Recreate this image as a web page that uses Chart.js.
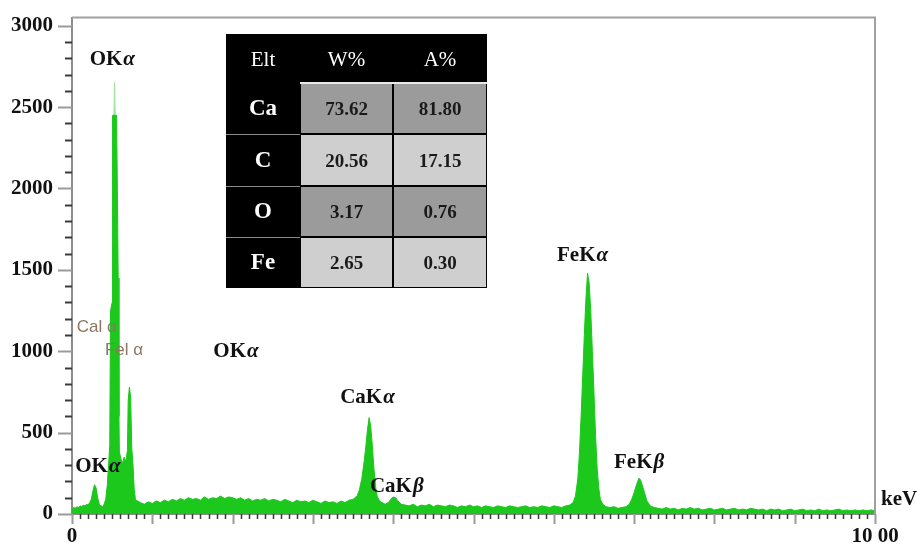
<!DOCTYPE html>
<html>
<head>
<meta charset="utf-8">
<script src="https://cdn.jsdelivr.net/npm/chart.js@4.4.1/dist/chart.umd.min.js"></script>
<style>
    html, body { margin: 0; padding: 0; background: #fff; }
</style>
</head>
<body>
<canvas id="chart" width="919" height="547"></canvas>
<script>
// EDS spectrum: [energy keV, counts]
const spectrum = [
    [0.00, 25], [0.02, 40], [0.04, 35], [0.06, 45], [0.08, 40], [0.10, 50],
    [0.12, 45], [0.14, 55], [0.16, 50], [0.18, 60], [0.20, 55], [0.22, 70],
    [0.24, 90], [0.26, 140], [0.28, 180], [0.30, 160], [0.32, 100], [0.34, 60],
    [0.36, 50], [0.38, 45], [0.40, 60], [0.42, 90], [0.44, 180], [0.455, 300],
    [0.47, 420], [0.48, 1250], [0.50, 1300], [0.505, 2450], [0.555, 2450],
    [0.565, 2000], [0.575, 1450], [0.585, 600], [0.59, 380], [0.61, 340],
    [0.63, 310], [0.65, 350], [0.67, 320], [0.69, 390], [0.70, 700],
    [0.715, 780], [0.73, 720], [0.745, 400], [0.76, 300], [0.775, 150],
    [0.79, 90], [0.80, 85], [0.85, 70], [0.90, 60], [0.95, 75], [1.00, 65],
    [1.05, 80], [1.10, 70], [1.15, 85], [1.20, 75], [1.25, 90], [1.30, 80],
    [1.35, 95], [1.40, 85], [1.45, 100], [1.50, 90], [1.55, 95], [1.60, 85],
    [1.65, 105], [1.70, 90], [1.75, 100], [1.80, 95], [1.85, 110], [1.90, 95],
    [1.95, 105], [2.00, 100], [2.05, 90], [2.10, 100], [2.15, 85], [2.20, 95],
    [2.25, 80], [2.30, 90], [2.35, 85], [2.40, 95], [2.45, 80], [2.50, 90],
    [2.55, 85], [2.60, 75], [2.65, 90], [2.70, 80], [2.75, 70], [2.80, 85],
    [2.85, 75], [2.90, 80], [2.95, 70], [3.00, 85], [3.05, 75], [3.10, 65],
    [3.15, 80], [3.20, 70], [3.25, 75], [3.30, 65], [3.35, 80], [3.40, 70],
    [3.45, 85], [3.50, 90], [3.55, 110], [3.58, 150], [3.61, 220], [3.64, 330],
    [3.66, 420], [3.68, 520], [3.70, 592], [3.72, 540], [3.74, 420], [3.76, 280],
    [3.78, 170], [3.80, 110], [3.83, 80], [3.86, 70], [3.90, 60], [3.94, 70],
    [3.97, 90], [4.00, 105], [4.03, 100], [4.06, 80], [4.10, 60], [4.15, 55],
    [4.20, 50], [4.25, 60], [4.30, 45], [4.35, 55], [4.40, 50], [4.45, 60],
    [4.50, 45], [4.55, 55], [4.60, 50], [4.65, 45], [4.70, 55], [4.75, 50],
    [4.80, 40], [4.85, 50], [4.90, 45], [4.95, 55], [5.00, 45], [5.05, 50],
    [5.10, 40], [5.15, 50], [5.20, 45], [5.25, 40], [5.30, 50], [5.35, 45],
    [5.40, 40], [5.45, 50], [5.50, 45], [5.55, 40], [5.60, 45], [5.65, 50],
    [5.70, 40], [5.75, 45], [5.80, 40], [5.85, 50], [5.90, 45], [5.95, 40],
    [6.00, 50], [6.05, 45], [6.10, 40], [6.15, 50], [6.20, 55], [6.24, 70],
    [6.27, 110], [6.30, 220], [6.32, 380], [6.34, 600], [6.36, 850], [6.38, 1100],
    [6.40, 1320], [6.42, 1480], [6.44, 1420], [6.46, 1250], [6.48, 1000],
    [6.50, 750], [6.52, 480], [6.54, 280], [6.56, 160], [6.58, 90], [6.61, 60],
    [6.65, 45], [6.70, 40], [6.75, 45], [6.80, 35], [6.85, 40], [6.90, 45],
    [6.94, 60], [6.97, 90], [7.00, 130], [7.03, 180], [7.06, 220], [7.08, 210],
    [7.10, 180], [7.13, 130], [7.16, 80], [7.20, 50], [7.25, 40], [7.30, 35],
    [7.35, 30], [7.40, 40], [7.45, 30], [7.50, 35], [7.55, 25], [7.60, 35],
    [7.65, 30], [7.70, 40], [7.75, 30], [7.80, 35], [7.85, 25], [7.90, 30],
    [7.95, 35], [8.00, 25], [8.05, 30], [8.10, 35], [8.15, 25], [8.20, 30],
    [8.25, 35], [8.30, 25], [8.35, 30], [8.40, 25], [8.45, 35], [8.50, 30],
    [8.55, 25], [8.60, 30], [8.65, 20], [8.70, 30], [8.75, 25], [8.80, 30],
    [8.85, 20], [8.90, 25], [8.95, 30], [9.00, 20], [9.05, 25], [9.10, 30],
    [9.15, 20], [9.20, 25], [9.25, 20], [9.30, 30], [9.35, 20], [9.40, 25],
    [9.45, 20], [9.50, 25], [9.55, 30], [9.60, 20], [9.65, 25], [9.70, 20],
    [9.75, 25], [9.80, 20], [9.85, 25], [9.90, 20], [9.95, 25], [10.00, 20],
];
// Paler tip of the O K-alpha peak
const oPeakTip = [[0.52, 2400], [0.53, 2650], [0.54, 2400]];

// Axis ticks
const yTickValues = [0, 500, 1000, 1500, 2000, 2500, 3000];
const xTickValues = [0, 10];
const xTickLabels = ['0', '10 00'];

// Peak labels: text, greek suffix, anchor keV / counts (left, middle)
const peakNames = ['OK', 'OK', 'OK', 'CaK', 'CaK', 'FeK', 'FeK'];
const peakGreek = ['α', 'α', 'α', 'α', 'β', 'α', 'β'];
const peakKeV = [0.22, 1.76, 0.04, 3.34, 3.71, 6.04, 6.75];
const peakCounts = [2790, 1000, 290, 714, 171, 1586, 317];
// L-line labels (faint)
const lLineNames = ['Cal α', 'Fel α'];
const lLineKeV = [0.06, 0.41];
const lLineCounts = [1147, 1007];

// Composition table
const tableHeader = ['Elt', 'W%', 'A%'];
const elements = ['Ca', 'C', 'O', 'Fe'];
const weightPct = ['73.62', '20.56', '3.17', '2.65'];
const atomicPct = ['81.80', '17.15', '0.76', '0.30'];

const SERIF = '"Liberation Serif", "Times New Roman", serif';
const GREEN = '#1cc81c';

/**
 * Minor ticks, frame, peak labels, keV unit and the composition table
 */
const pluginEdsDecor = {
    id: 'edsDecor',
    afterDraw: function(chart) {
        'use strict';
        const ctx = chart.ctx;
        const xs = chart.scales.x;
        const ys = chart.scales.y;
        const area = chart.chartArea;
        ctx.save();

        // Top & right frame
        ctx.strokeStyle = '#a0a0a0';
        ctx.lineWidth = 2;
        ctx.beginPath();
        ctx.moveTo(area.left, area.top);
        ctx.lineTo(area.right, area.top);
        ctx.lineTo(area.right, area.bottom);
        ctx.stroke();

        // Y ticks every 100, long at every 500
        for (let v = 0; v <= 3000; v += 100) {
            const y = Math.round(ys.getPixelForValue(v)) + 0.5;
            const major = v % 500 == 0;
            ctx.strokeStyle = major ? '#9a9a9a' : '#3a3a3a';
            ctx.lineWidth = 2;
            ctx.beginPath();
            ctx.moveTo(area.left - (major ? 14 : 7), y);
            ctx.lineTo(area.left, y);
            ctx.stroke();
        }
        // X ticks every 0.1 keV, long at every keV
        for (let i = 0; i <= 100; ++i) {
            const x = Math.round(xs.getPixelForValue(i / 10)) + 0.5;
            const major = i % 10 == 0;
            ctx.strokeStyle = major ? '#9a9a9a' : '#3a3a3a';
            ctx.lineWidth = major ? 2 : 1.5;
            ctx.beginPath();
            ctx.moveTo(x, area.bottom);
            ctx.lineTo(x, area.bottom + (major ? 10 : 5));
            ctx.stroke();
        }

        // Peak labels
        ctx.textBaseline = 'middle';
        ctx.textAlign = 'left';
        ctx.fillStyle = '#111';
        for (let i = 0; i < peakNames.length; ++i) {
            const x = xs.getPixelForValue(peakKeV[i]);
            const y = ys.getPixelForValue(peakCounts[i]);
            ctx.font = 'bold 21px ' + SERIF;
            ctx.fillText(peakNames[i], x, y);
            const w = ctx.measureText(peakNames[i]).width;
            ctx.font = 'italic bold 21px ' + SERIF;
            ctx.fillText(peakGreek[i], x + w + 1, y);
        }
        ctx.fillStyle = '#8a7662';
        ctx.font = '17px "Liberation Sans", Arial, sans-serif';
        for (let i = 0; i < lLineNames.length; ++i) {
            ctx.fillText(lLineNames[i],
                xs.getPixelForValue(lLineKeV[i]),
                ys.getPixelForValue(lLineCounts[i]));
        }

        // Unit
        ctx.fillStyle = '#111';
        ctx.font = 'bold 21px ' + SERIF;
        ctx.fillText('keV', area.right + 6, area.bottom - 14);

        // Composition table
        const cols = [226, 300, 393, 487];
        const rows = [34, 83, 134, 186, 237, 288];
        ctx.fillStyle = '#000';
        ctx.fillRect(cols[0], rows[0], cols[3] - cols[0], rows[5] - rows[0]);
        for (let r = 0; r < elements.length; ++r) {
            const top = rows[r + 1];
            const bottom = rows[r + 2];
            ctx.fillStyle = r % 2 == 0 ? '#9b9b9b' : '#cfcfcf';
            ctx.fillRect(cols[1] + 1, top + 1, cols[2] - cols[1] - 2, bottom - top - 2);
            ctx.fillRect(cols[2] + 1, top + 1, cols[3] - cols[2] - 2, bottom - top - 2);
            if (r > 0) {
                ctx.strokeStyle = '#8a8a8a';
                ctx.lineWidth = 1;
                ctx.beginPath();
                ctx.moveTo(cols[0], top + 0.5);
                ctx.lineTo(cols[1], top + 0.5);
                ctx.stroke();
            }
        }
        ctx.strokeStyle = '#e8e8e8';
        ctx.lineWidth = 2;
        ctx.beginPath();
        ctx.moveTo(cols[1], rows[1]);
        ctx.lineTo(cols[3], rows[1]);
        ctx.stroke();

        ctx.textAlign = 'center';
        ctx.fillStyle = '#fff';
        ctx.font = '21px ' + SERIF;
        for (let c = 0; c < 3; ++c) {
            ctx.fillText(tableHeader[c], (cols[c] + cols[c + 1]) / 2, (rows[0] + rows[1]) / 2 + 2);
        }
        for (let r = 0; r < elements.length; ++r) {
            const y = (rows[r + 1] + rows[r + 2]) / 2 + 1;
            ctx.fillStyle = '#fff';
            ctx.font = 'bold 23px ' + SERIF;
            ctx.fillText(elements[r], (cols[0] + cols[1]) / 2, y);
            ctx.fillStyle = '#1a1a1a';
            ctx.font = 'bold 19px ' + SERIF;
            ctx.fillText(weightPct[r], (cols[1] + cols[2]) / 2, y + 1);
            ctx.fillText(atomicPct[r], (cols[2] + cols[3]) / 2, y + 1);
        }
        ctx.restore();
    },
};

const ctx = document.getElementById('chart').getContext('2d');
new Chart(ctx, {
    type: 'line',
    data: {
        datasets: [
            {
                data: spectrum.map(p => ({x: p[0], y: p[1]})),
                borderColor: GREEN,
                backgroundColor: GREEN,
                borderWidth: 1,
                pointRadius: 0,
                tension: 0,
                fill: 'origin',
                order: 1,
            },
            {
                data: oPeakTip.map(p => ({x: p[0], y: p[1]})),
                borderColor: '#9be69b',
                backgroundColor: '#9be69b',
                borderWidth: 1,
                pointRadius: 0,
                tension: 0,
                fill: 'origin',
                order: 2,
            },
        ],
    },
    options: {
        responsive: false,
        animation: false,
        layout: {padding: {top: 14, right: 44, left: 0, bottom: 0}},
        scales: {
            x: {
                type: 'linear',
                min: 0,
                max: 10,
                afterBuildTicks: scale => {
                    scale.ticks = xTickValues.map(v => ({value: v}));
                },
                afterFit: scale => {
                    scale.height = 33;
                },
                grid: {drawOnChartArea: false, tickLength: 10, color: 'rgba(0,0,0,0)'},
                border: {display: true, color: '#8c8c8c', width: 2},
                ticks: {
                    autoSkip: false,
                    maxRotation: 0,
                    padding: 0,
                    color: '#111',
                    font: {family: SERIF, size: 21, weight: 'bold'},
                    callback: (value, index) => xTickLabels[index],
                },
            },
            y: {
                min: 0,
                max: 3050,
                afterBuildTicks: scale => {
                    scale.ticks = yTickValues.map(v => ({value: v}));
                },
                afterFit: scale => {
                    scale.width = 72;
                },
                grid: {drawOnChartArea: false, tickLength: 14, color: 'rgba(0,0,0,0)'},
                border: {display: true, color: '#8c8c8c', width: 2},
                ticks: {
                    padding: 5,
                    color: '#111',
                    font: {family: SERIF, size: 21, weight: 'bold'},
                    callback: value => String(value),
                },
            },
        },
        plugins: {
            legend: {display: false},
            tooltip: {enabled: false},
        },
    },
    plugins: [pluginEdsDecor],
});
</script>
</body>
</html>
